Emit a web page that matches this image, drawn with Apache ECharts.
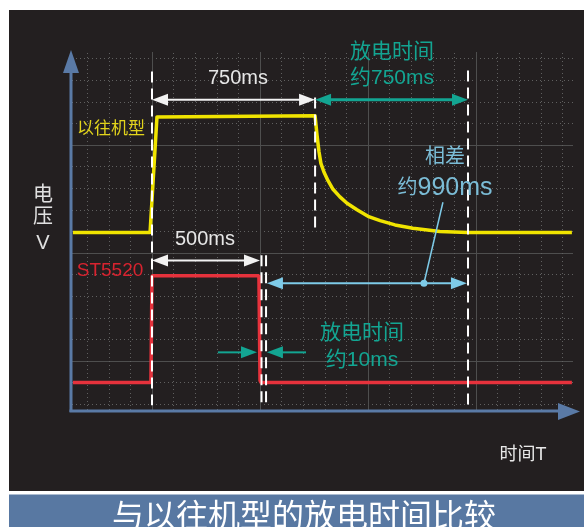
<!DOCTYPE html>
<html><head><meta charset="utf-8">
<script src="https://cdn.jsdelivr.net/npm/echarts@6/dist/echarts.min.js"></script>
<style>html,body{margin:0;padding:0;background:#fff}#c{width:584px;height:527px}</style>
</head><body><div id="c"></div>
<script>
// ---- data (time in ms, voltage in grid divisions) ----
const yellowName = '以往机型';
const yellowT = [-366, -9, 23, 28, 755, 764, 773, 782, 796, 815, 838, 870, 903, 949, 1000, 1056, 1125, 1208, 1333, 1463, 1944];
const yellowV = [2.19, 2.19, 3.26, 3.27, 3.27, 3.09, 2.94, 2.83, 2.75, 2.67, 2.59, 2.52, 2.46, 2.40, 2.34, 2.30, 2.26, 2.23, 2.20, 2.19, 2.19];
const redName = 'ST5520';
const redT = [-366, -5, 0, 495, 500, 505, 1944];
const redV = [0.80, 0.80, 1.79, 1.79, 0.82, 0.80, 0.80];

// annotation values (data units)
const markerT = [0, 755, 1463, 507, 528];          // vertical dashed markers
const markerFrom = [3.68, 3.44, 3.69, 1.98, 1.98];
const markerTo = [0.59, 2.19, 0.59, 0.59, 0.59];
const span750 = [0, 755, 3.42];
const spanDis750 = [755, 1463, 3.42];
const span500 = [0, 500, 1.93];
const span990 = [532, 1458, 1.72];
const dis10Left = [305, 486, 1.08];
const dis10Right = [713, 532, 1.08];
const leader = [1259, 1.72, 1347, 2.47];

const textLabels = {
  y: ['电', '压', 'V'], x: '时间T', title: '与以往机型的放电时间比较',
  s750: '750ms', s500: '500ms', dis: '放电时间', d750: '约750ms', d10: '约10ms', diff: '相差'
};

const BG = '#231f20';
const FONT = "'Liberation Sans','Noto Sans CJK SC',sans-serif";
const chart = echarts.init(document.getElementById('c'));

const zip = (a, b) => a.map((v, i) => [v, b[i]]);

chart.setOption({
  backgroundColor: BG,
  animation: false,
  grid: { left: 44, right: 0, top: 37, bottom: 58 },
  xAxis: {
    type: 'value', min: -500, max: 2000, interval: 500,
    axisLine: { show: false }, axisTick: { show: false }, axisLabel: { show: false },
    splitLine: { show: true, lineStyle: { color: '#4e4e4e', width: 1 } },
    minorTick: { show: false, splitNumber: 5 },
    minorSplitLine: { show: true, lineStyle: { color: '#606060', width: 1, type: [1, 3] } }
  },
  yAxis: {
    type: 'value', min: 0, max: 4, interval: 1,
    axisLine: { show: false }, axisTick: { show: false }, axisLabel: { show: false },
    splitLine: { show: true, lineStyle: { color: '#4e4e4e', width: 1 } },
    minorTick: { show: false, splitNumber: 5 },
    minorSplitLine: { show: true, lineStyle: { color: '#606060', width: 1, type: [1, 3] } }
  },
  series: [
    { name: yellowName, type: 'line', data: zip(yellowT, yellowV), showSymbol: false, z: 3,
      lineStyle: { color: '#f0e400', width: 3.5, join: 'round' } },
    { name: redName, type: 'line', data: zip(redT, redV), showSymbol: false, z: 3,
      lineStyle: { color: '#e6323c', width: 3.5 } }
  ]
});

const px = (t, v) => chart.convertToPixel({ gridIndex: 0 }, [t, v]);
const g = [];

// frame pieces
g.push({ type: 'rect', z: 1, shape: { x: 0, y: 0, width: 70, height: 527 }, style: { fill: BG } });
g.push({ type: 'rect', z: 1, shape: { x: 0, y: 0, width: 584, height: 52 }, style: { fill: BG } });
g.push({ type: 'rect', z: 1, shape: { x: 0, y: 412, width: 584, height: 115 }, style: { fill: BG } });
g.push({ type: 'rect', z: 1, shape: { x: 573, y: 0, width: 11, height: 527 }, style: { fill: BG } });
g.push({ type: 'rect', z: 50, shape: { x: 0, y: 0, width: 584, height: 10 }, style: { fill: '#fff' } });
g.push({ type: 'rect', z: 50, shape: { x: 0, y: 0, width: 9, height: 527 }, style: { fill: '#fff' } });
g.push({ type: 'rect', z: 50, shape: { x: 0, y: 491, width: 584, height: 4 }, style: { fill: '#fff' } });
g.push({ type: 'rect', z: 50, shape: { x: 9, y: 494.5, width: 575, height: 33 }, style: { fill: '#5878a2' } });
g.push({ type: 'text', z: 51, x: 304, y: 515, style: { text: textLabels.title, fill: '#ffffff', font: "32px 'Noto Sans CJK SC'", align: 'center', verticalAlign: 'middle' } });

// axes with arrows
const AX = '#5a7aa6';
g.push({ type: 'line', z: 10, shape: { x1: 71, y1: 412, x2: 71, y2: 70 }, style: { stroke: AX, lineWidth: 3 } });
g.push({ type: 'polygon', z: 10, shape: { points: [[63, 73], [79, 73], [71, 50]] }, style: { fill: AX } });
g.push({ type: 'line', z: 10, shape: { x1: 69.5, y1: 411, x2: 562, y2: 411 }, style: { stroke: AX, lineWidth: 3 } });
g.push({ type: 'polygon', z: 10, shape: { points: [[558, 403], [558, 420], [580, 411.5]] }, style: { fill: AX } });

// dashed markers
markerT.forEach((t, i) => {
  const a = px(t, markerFrom[i]), b = px(t, markerTo[i]);
  g.push({ type: 'line', z: 20, shape: { x1: a[0], y1: a[1], x2: b[0], y2: b[1] },
    style: { stroke: '#ffffff', lineWidth: 2, lineDash: [11, 6] } });
});

function head(tip, from, color, len, wid) {
  const dx = tip[0] - from[0], dy = tip[1] - from[1];
  const L = Math.hypot(dx, dy), ux = dx / L, uy = dy / L;
  const bx = tip[0] - ux * len, by = tip[1] - uy * len;
  g.push({ type: 'polygon', z: 21, shape: { points: [[tip[0], tip[1]], [bx - uy * wid / 2, by + ux * wid / 2], [bx + uy * wid / 2, by - ux * wid / 2]] }, style: { fill: color } });
  return [bx + ux * 1, by + uy * 1];
}
function arrow(s, color, lw, both) {
  const a = px(s[0], s[2]), b = px(s[1], s[2]);
  const eb = head(b, a, color, 16, 12);
  const ea = both ? head(a, b, color, 16, 12) : a;
  g.push({ type: 'line', z: 20, shape: { x1: ea[0], y1: ea[1], x2: eb[0], y2: eb[1] }, style: { stroke: color, lineWidth: lw } });
}
const WHITE = '#f2f2f2', TEAL = '#13a592', CYAN = '#7ecbe8';
arrow(span750, WHITE, 2, true);
arrow(spanDis750, TEAL, 3, true);
arrow(span500, WHITE, 2, true);
arrow(span990, CYAN, 2, true);
arrow(dis10Left, TEAL, 2, false);
arrow(dis10Right, TEAL, 2, false);
const l1 = px(leader[0], leader[1]), l2 = px(leader[2], leader[3]);
g.push({ type: 'line', z: 20, shape: { x1: l1[0], y1: l1[1], x2: l2[0], y2: l2[1] }, style: { stroke: CYAN, lineWidth: 1.5 } });
g.push({ type: 'circle', z: 21, shape: { cx: l1[0], cy: l1[1], r: 3.5 }, style: { fill: CYAN } });

// texts
function txt(s, x, y, color, size) {
  g.push({ type: 'text', z: 30, x, y, style: { text: s, fill: color, font: size + 'px ' + FONT, align: 'center', verticalAlign: 'middle' } });
}
txt(textLabels.y[0], 43, 195, '#e0e0e0', 20);
txt(textLabels.y[1], 43, 217, '#e0e0e0', 20);
txt(textLabels.y[2], 43, 243, '#e0e0e0', 20);
txt(textLabels.x, 523, 455, '#e8e8e8', 18);
txt(yellowName, 111, 129, '#e2d41c', 17);
txt(redName, 110, 271, '#d8232f', 19);
txt(textLabels.s750, 238, 78, '#e6e6e6', 20);
txt(textLabels.s500, 205, 239, '#e6e6e6', 20);
txt(textLabels.dis, 392, 52, TEAL, 21);
txt(textLabels.d750, 392, 78, TEAL, 21);
txt(textLabels.dis, 362, 333, TEAL, 21);
txt(textLabels.d10, 362, 360, TEAL, 21);
txt(textLabels.diff, 445, 157, '#7bbcd6', 20);
g.push({ type: 'text', z: 30, x: 445, y: 188, style: {
  text: '{a|约}{b|990ms}', align: 'center', verticalAlign: 'middle',
  rich: { a: { fill: '#7bbcd6', fontSize: 20, fontFamily: FONT }, b: { fill: '#7bbcd6', fontSize: 25, fontFamily: FONT } } } });

chart.setOption({ graphic: g });
</script></body></html>
